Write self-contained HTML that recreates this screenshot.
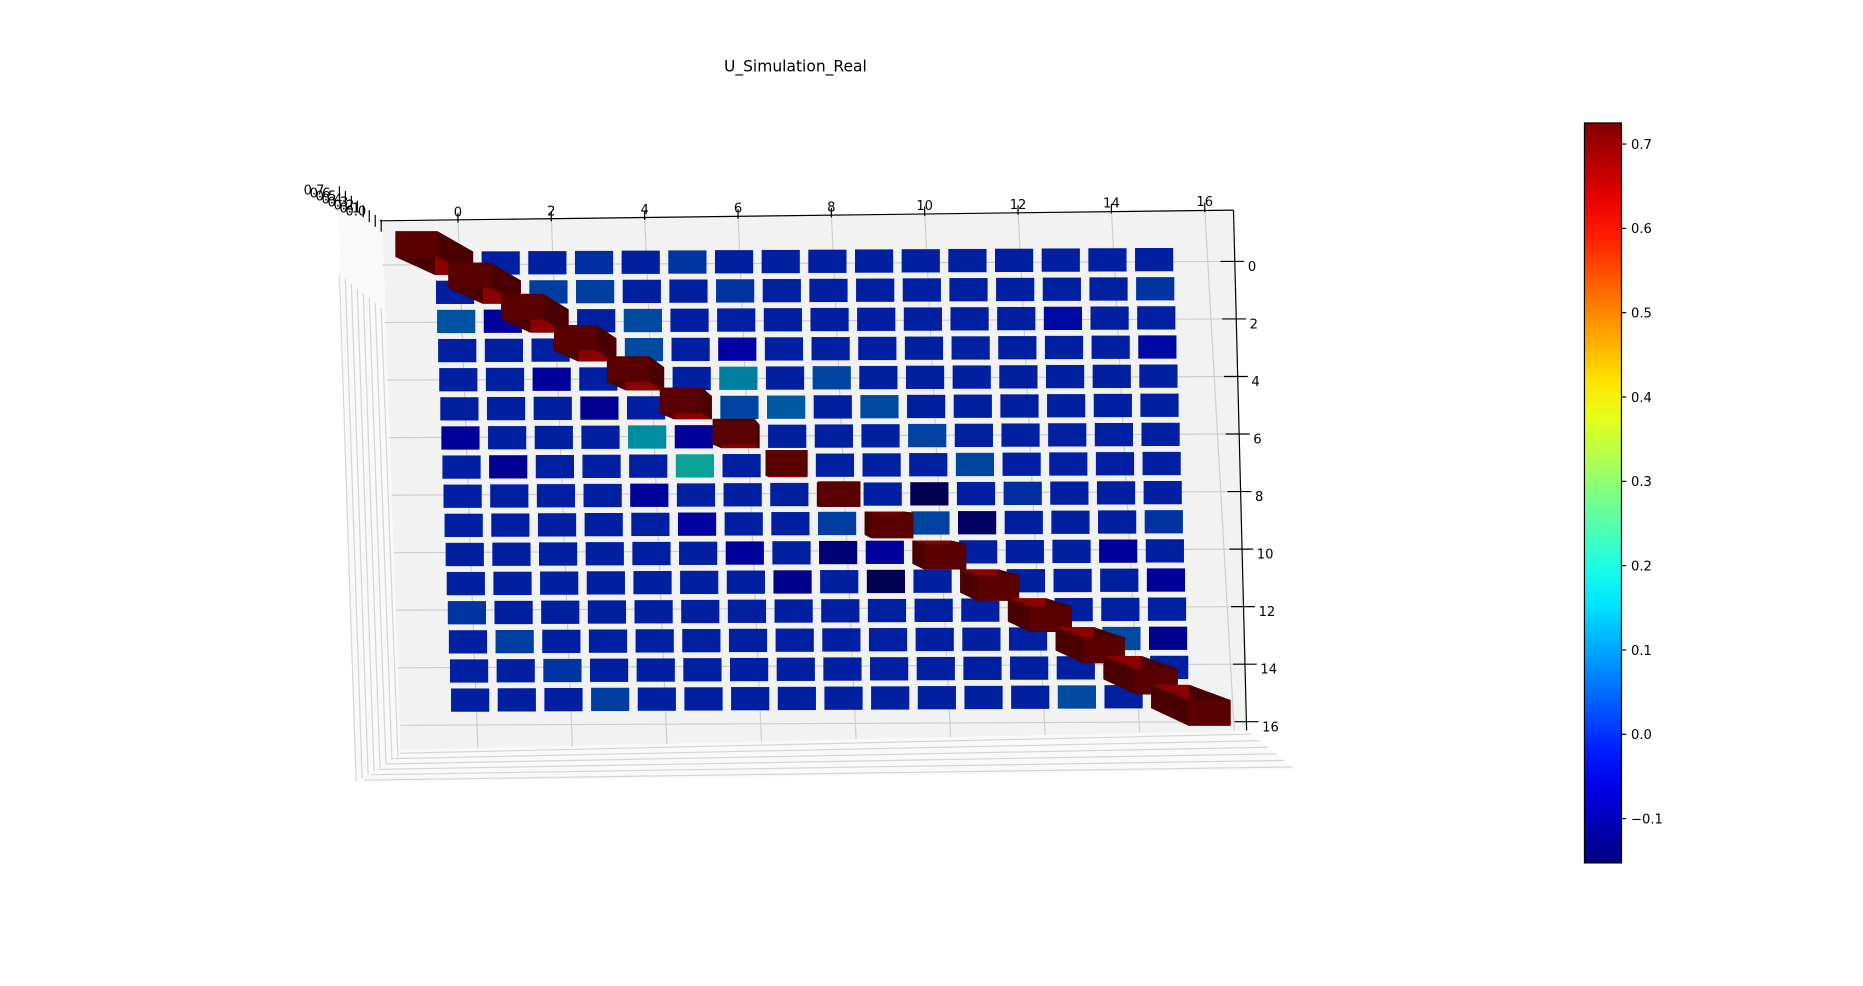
<!DOCTYPE html>
<html><head><meta charset="utf-8"><style>
html,body{margin:0;padding:0;background:#fff}
svg{display:block}
text{font-family:"DejaVu Sans","Liberation Sans",sans-serif;fill:#000}
</style></head><body>
<svg id="chart" width="1863" height="986" viewBox="0 0 1560 826" xmlns="http://www.w3.org/2000/svg">
<text x="666" y="60" font-size="13" text-anchor="middle">U_Simulation_Real</text>
<g id="panes">
<polygon points="283,160 320,185 335,628 298,655" fill="#f9f9f9"/>
<polygon points="335,628 1044,612 1085,645 298,655" fill="#f9f9f9"/>
<polygon points="320,185 1033,176 1044,612 335,628" fill="#f2f2f2"/>
</g>
<g id="grid"></g>
<g id="bars"></g>
<g id="axes"></g>
<g id="cbar"></g>
</svg>
<script>
const rowLabels = [0,1,2,3,4,5,6,7,8,9,10,11,12,13,14,15];
const colLabels = [0,1,2,3,4,5,6,7,8,9,10,11,12,13,14,15];
const xTicks = [0,2,4,6,8,10,12,14,16];
const yTicks = [0,2,4,6,8,10,12,14,16];
const zTickLabels = ["0.7","0.6","0.5","0.4","0.3","0.2","0.1","0.0"];
const cbarTicks = [0.7,0.6,0.5,0.4,0.3,0.2,0.1,0.0,-0.1];
const cbarTickLabels = ["0.7","0.6","0.5","0.4","0.3","0.2","0.1","0.0","\u22120.1"];
const diagValue = 0.72;
const offDiag = [
 [0,0,0,0.02,0,0.03,0,0,0,0,0,0,0,0,0,0],
 [0,0,0.04,0.04,0,0,0.03,0,0,0,0,0,0,0,0,0.03],
 [0.07,-0.05,0,0,0.06,0,0,0,0,0,0,0,0,-0.03,0,0],
 [0,0,0,0,0.06,0,-0.04,0,0,0,0,0,0,0,0,-0.03],
 [0,0,-0.05,0,0,0,0.13,0,0.05,0,0,0,0,0,0,0],
 [0,0,0,-0.06,0,0,0.05,0.08,0,0.06,0,0,0,0,0,0],
 [-0.05,0,0,0,0.15,-0.05,0,0,0,0,0.05,0,0,0,0,0],
 [0,-0.06,0,0,0,0.19,0,0,0,0,0,0.05,0,0,0,0],
 [0,0,0,0,-0.05,0,0,0,0,0,-0.15,0,0.02,0,0,0],
 [0,0,0,0,0,-0.04,0,0,0.04,0,0.05,-0.13,0,0,0,0.03],
 [0,0,0,0,0,0,-0.05,0,-0.1,-0.05,0,0,0,0,-0.05,0],
 [0,0,0,0,0,0,0,-0.07,0,-0.15,0,0,0,0,0,-0.05],
 [0.03,0,0,0,0,0,0,0,0,0,0,0,0,0,0,0],
 [0,0.04,0,0,0,0,0,0,0,0,0,0,0,0,0.06,-0.07],
 [0,0,0.03,0,0,0,0,0,0,0,0,0,0,0,0,0],
 [0,0,0,0.04,0,0,0,0,0,0,0,0,0,0.06,0,0]
];
const vmin=-0.1525, vmax=0.725;
const NS="http://www.w3.org/2000/svg";
function mk(tag,attrs,parent){const e=document.createElementNS(NS,tag);for(const k in attrs)e.setAttribute(k,attrs[k]);parent.appendChild(e);return e;}
function cx(r,c){return 380+c*39.1+r*0.9;}
function cy(r,c){return 220.5+r*24.4-c*0.2;}
function jet(v,s){let t=(v-vmin)/(vmax-vmin);t=Math.max(0,Math.min(1,t));
 const cl=x=>Math.max(0,Math.min(1,x));
 const r=cl(1.5-Math.abs(4*t-3)),g=cl(1.5-Math.abs(4*t-2)),b=cl(1.5-Math.abs(4*t-1));
 return `rgb(${Math.round(r*255*s)},${Math.round(g*255*s)},${Math.round(b*255*s)})`;}
const grid=document.getElementById('grid');
xTicks.forEach(t=>{
 const l=mk('line',{x1:383.3+t*39.1,y1:183.5-t*0.55,x2:400+t*39.6,y2:627-t*0.95,stroke:'#cfcfcf','stroke-width':1},grid);
 
});
yTicks.forEach(t=>{
 const y=219+t*24.1;
 const l=mk('line',{x1:320+t*0.95,y1:y+3,x2:1031+t*0.75,y2:y,stroke:'#cfcfcf','stroke-width':1},grid);
 
});
for(let i=0;i<8;i++){
 const l=mk('line',{x1:284+i*5,y1:230+i*4,x2:298+i*5,y2:655-i*3,stroke:'#d5d5d5','stroke-width':1},grid);
 
}
for(let i=0;i<6;i++){
 const l=mk('line',{x1:335-i*6,y1:631+i*4.5,x2:1048+i*7,y2:615+i*5.5,stroke:'#d5d5d5','stroke-width':1},grid);
 
}
const bars=document.getElementById('bars');
const W=32,H=19.5;
rowLabels.forEach(r=>{colLabels.forEach(c=>{
 if(r===c)return;
 const v=offDiag[r][c];
 const x=cx(r,c),y=cy(r,c);
 const rc=mk('rect',{x:x-W/2,y:y-H/2,width:W,height:H,fill:jet(v,0.63)},bars);
 
});});
rowLabels.forEach(r=>{
 const x=cx(r,r),y=cy(r,r);
 const f=diagValue/0.72;
 const dx=0.1075*(x-673)*f, dy=0.082*(y-415.6)*f;
 const g=mk('g',{},bars);
 
 const bw=W/2,bh=H/2,tw=W*1.1/2,th=H*1.1/2,tx=x+dx,ty=y+dy;
 const B=[[x-bw,y-bh],[x+bw,y-bh],[x+bw,y+bh],[x-bw,y+bh]];
 const T=[[tx-tw,ty-th],[tx+tw,ty-th],[tx+tw,ty+th],[tx-tw,ty+th]];
 const p=a=>a.map(q=>q.join(',')).join(' ');
 mk('polygon',{points:p(B),fill:'#5a0000'},g);
 mk('polygon',{points:p([T[0],T[1],B[1],B[0]]),fill:'#8b0000'},g);
 mk('polygon',{points:p([T[3],T[2],B[2],B[3]]),fill:'#8b0000'},g);
 mk('polygon',{points:p([T[0],T[3],B[3],B[0]]),fill:'#4a0000'},g);
 mk('polygon',{points:p([T[1],T[2],B[2],B[1]]),fill:'#4a0000'},g);
 mk('polygon',{points:p(T),fill:'#5a0000'},g);
});
const axes=document.getElementById('axes');
mk('line',{x1:318,y1:185,x2:1033,y2:176,stroke:'#000','stroke-width':1},axes);
mk('line',{x1:1033,y1:176,x2:1044,y2:612,stroke:'#000','stroke-width':1},axes);
xTicks.forEach(t=>{
 const x=383.3+t*39.1,y=183.5-t*0.55;
 mk('line',{x1:x,y1:y-5,x2:x,y2:y+3,stroke:'#000'},axes);
 const tx=mk('text',{x:x,y:y-2,'font-size':11,'text-anchor':'middle'},axes);
 tx.textContent=t;
});
yTicks.forEach(t=>{
 const y=219+t*24.1,x=1031+t*0.75;
 mk('line',{x1:x-9,y1:y,x2:x+11,y2:y,stroke:'#000'},axes);
 const tx=mk('text',{x:x+14,y:y+8,'font-size':11},axes);
 tx.textContent=t;
});
zTickLabels.forEach((s,i)=>{
 const tx=mk('text',{x:254+i*5,y:163+i*2.5,'font-size':11},axes);
 tx.textContent=s;
 mk('line',{x1:284+i*5,y1:156+i*4,x2:284+i*5,y2:166+i*4,stroke:'#000'},axes);
});
const cb=document.getElementById('cbar');
const defs=mk('defs',{},cb);
const grad=mk('linearGradient',{id:'jetg',x1:0,y1:1,x2:0,y2:0},defs);
for(let i=0;i<=20;i++){const t=i/20;mk('stop',{offset:t,'stop-color':jet(vmin+t*(vmax-vmin),1)},grad);}
const cbTop=103,cbBot=722.9,cbX=1327,cbW=31;
function cbY(v){return cbBot-(v-vmin)/(vmax-vmin)*(cbBot-cbTop);}
const rr=mk('rect',{x:cbX,y:cbTop,width:cbW,height:cbBot-cbTop,fill:'url(#jetg)',stroke:'#000','stroke-width':1},cb);

cbarTicks.forEach((v,i)=>{
 const y=cbY(v);
 mk('line',{x1:cbX+cbW,y1:y,x2:cbX+cbW+4,y2:y,stroke:'#000'},cb);
 const tx=mk('text',{x:cbX+cbW+8,y:y+4,'font-size':11},cb);
 tx.textContent=cbarTickLabels[i];
});
</script>
</body></html>
